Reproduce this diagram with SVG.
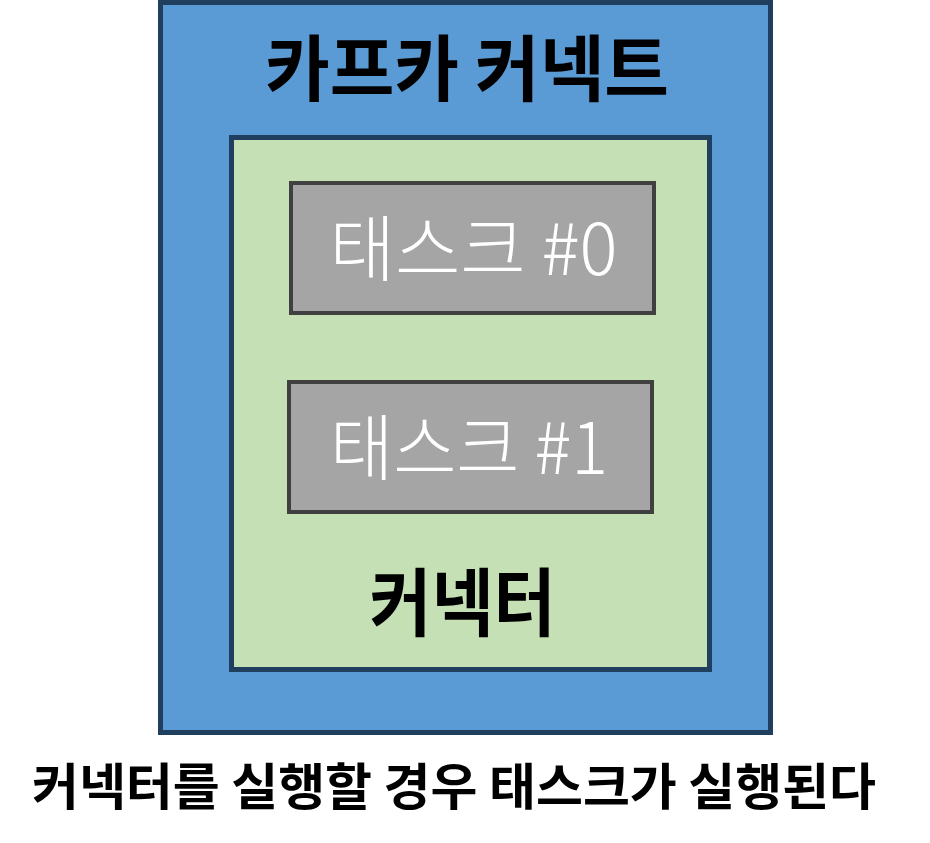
<svg xmlns="http://www.w3.org/2000/svg" width="930" height="843" viewBox="0 0 930 843">
<style>
.outer{fill:#5B9BD5;stroke:#203F5E;stroke-width:5}
.conn{fill:#C5E0B4;stroke:#203F5E;stroke-width:5}
.task{fill:#A5A5A5;stroke:#404040;stroke-width:4}
text{font-family:"Noto Sans CJK KR","Noto Sans",sans-serif;text-anchor:middle}
.b{font-weight:bold;fill:#000}
.w{fill:#fff;font-weight:300}
</style>
<rect width="930" height="843" fill="#fff"/>
<g id="kafka-connect">
<rect class="outer" x="160.5" y="2.5" width="610" height="730"/>
<text class="b" x="467" y="95" font-size="72" textLength="404" lengthAdjust="spacingAndGlyphs">카프카 커넥트</text>
</g>
<g id="connector">
<rect class="conn" x="231.5" y="137.5" width="478" height="532"/>
<text class="b" x="462.5" y="630" font-size="74" textLength="186" lengthAdjust="spacingAndGlyphs">커넥터</text>
</g>
<g id="task0">
<rect class="task" x="291" y="183" width="363" height="130"/>
<text class="w" x="473.5" y="275" font-size="72" textLength="288" lengthAdjust="spacingAndGlyphs">태스크 #0</text>
</g>
<g id="task1">
<rect class="task" x="289" y="382" width="363" height="130"/>
<text class="w" x="469" y="474" font-size="72" textLength="278" lengthAdjust="spacingAndGlyphs">태스크 #1</text>
</g>
<g id="connectors"></g>
<g id="caption">
<text class="b" x="454" y="805" font-size="50" textLength="844" lengthAdjust="spacingAndGlyphs">커넥터를 실행할 경우 태스크가 실행된다</text>
</g>
</svg>
